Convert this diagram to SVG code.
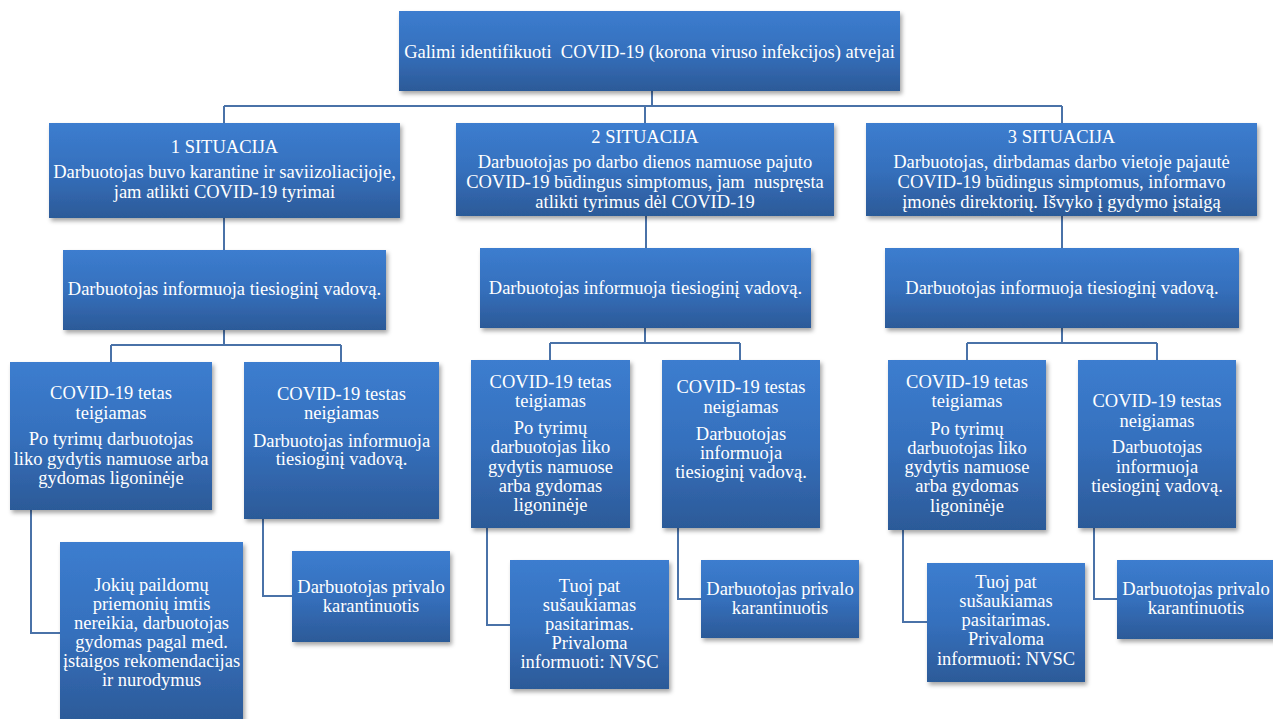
<svg xmlns="http://www.w3.org/2000/svg" width="1273" height="719" viewBox="0 0 1273 719">
<defs>
<linearGradient id="g" x1="0" y1="0" x2="0" y2="1">
<stop offset="0" stop-color="#3c7dcf"/>
<stop offset="0.5" stop-color="#3570bd"/>
<stop offset="1" stop-color="#2c5a98"/>
</linearGradient>
<filter id="sh" x="-10%" y="-10%" width="125%" height="130%">
<feDropShadow dx="2" dy="3" stdDeviation="2" flood-color="#000" flood-opacity="0.35"/>
</filter>
<style>
.box{fill:url(#g);filter:url(#sh);}
.t{font-family:"Liberation Serif","Times New Roman",serif;font-size:18.5px;fill:#fff;text-anchor:middle;white-space:pre;}
.c{fill:none;stroke:#4a72a8;stroke-width:2;}
</style>
</defs>
<rect width="1273" height="719" fill="#fff"/>
<g id="connectors" class="c">
<path d="M652,91 V106 M224,106 H1062 M224,106 V123 M645,106 V123 M1062,106 V123"/>
<path d="M224,218 V250 M646,216 V248 M1062,216 V248"/>
<path d="M224,330 V345 M111,345 H341 M111,345 V362 M341,345 V362"/>
<path d="M645,328 V343 M550,343 H740 M550,343 V360 M740,343 V360"/>
<path d="M1062,328 V343 M967,343 H1157 M967,343 V360 M1157,343 V360"/>
<path d="M31,510 V633 H60 M263,519 V596 H292 M487,528 V625 H510 M678,528 V599 H701 M903,530 V622 H927 M1094,528 V599 H1117"/>
</g>
<g id="top"><rect class="box" x="399" y="11" width="501" height="80"/>
<text class="t" x="649.5" y="58">Galimi identifikuoti  COVID-19 (korona viruso infekcijos) atvejai</text></g>
<g id="sit1"><rect class="box" x="49" y="123" width="351" height="95"/>
<text class="t"><tspan x="224.5" y="153">1 SITUACIJA</tspan><tspan x="224.5" y="178">Darbuotojas buvo karantine ir saviizoliacijoje,</tspan><tspan x="224.5" y="198">jam atlikti COVID-19 tyrimai</tspan></text></g>
<g id="sit2"><rect class="box" x="456" y="123" width="378" height="93"/>
<text class="t"><tspan x="645" y="143">2 SITUACIJA</tspan><tspan x="645" y="168">Darbuotojas po darbo dienos namuose pajuto</tspan><tspan x="645" y="188">COVID-19 būdingus simptomus, jam  nuspręsta</tspan><tspan x="645" y="208">atlikti tyrimus dėl COVID-19</tspan></text></g>
<g id="sit3"><rect class="box" x="866" y="123" width="391" height="93"/>
<text class="t"><tspan x="1061.5" y="143">3 SITUACIJA</tspan><tspan x="1061.5" y="168">Darbuotojas, dirbdamas darbo vietoje pajautė</tspan><tspan x="1061.5" y="188">COVID-19 būdingus simptomus, informavo</tspan><tspan x="1061.5" y="208">įmonės direktorių. Išvyko į gydymo įstaigą</tspan></text></g>
<g id="inf1"><rect class="box" x="63" y="250" width="323" height="80"/>
<text class="t" x="224.5" y="295">Darbuotojas informuoja tiesioginį vadovą.</text></g>
<g id="inf2"><rect class="box" x="480" y="248" width="331" height="80"/>
<text class="t" x="645.5" y="294">Darbuotojas informuoja tiesioginį vadovą.</text></g>
<g id="inf3"><rect class="box" x="885" y="248" width="354" height="80"/>
<text class="t" x="1062" y="294">Darbuotojas informuoja tiesioginį vadovą.</text></g>
<g id="pos1"><rect class="box" x="10" y="362" width="202" height="148"/>
<text class="t"><tspan x="111" y="399">COVID-19 tetas</tspan><tspan x="111" y="419">teigiamas</tspan><tspan x="111" y="445">Po tyrimų darbuotojas</tspan><tspan x="111" y="465">liko gydytis namuose arba</tspan><tspan x="111" y="484">gydomas ligoninėje</tspan></text></g>
<g id="neg1"><rect class="box" x="244" y="362" width="195" height="157"/>
<text class="t"><tspan x="341.5" y="400">COVID-19 testas</tspan><tspan x="341.5" y="419">neigiamas</tspan><tspan x="341.5" y="447">Darbuotojas informuoja</tspan><tspan x="341.5" y="465">tiesioginį vadovą.</tspan></text></g>
<g id="res1a"><rect class="box" x="60" y="542" width="183" height="180"/>
<text class="t"><tspan x="151.5" y="591">Jokių paildomų</tspan><tspan x="151.5" y="610">priemonių imtis</tspan><tspan x="151.5" y="629">nereikia, darbuotojas</tspan><tspan x="151.5" y="648">gydomas pagal med.</tspan><tspan x="151.5" y="667">įstaigos rekomendacijas</tspan><tspan x="151.5" y="686">ir nurodymus</tspan></text></g>
<g id="res1b"><rect class="box" x="292" y="551" width="158" height="91"/>
<text class="t"><tspan x="371" y="593">Darbuotojas privalo</tspan><tspan x="371" y="612">karantinuotis</tspan></text></g>
<g id="pos2"><rect class="box" x="471" y="360" width="159" height="168"/>
<text class="t"><tspan x="550.5" y="388">COVID-19 tetas</tspan><tspan x="550.5" y="407">teigiamas</tspan><tspan x="550.5" y="434">Po tyrimų</tspan><tspan x="550.5" y="453">darbuotojas liko</tspan><tspan x="550.5" y="473">gydytis namuose</tspan><tspan x="550.5" y="492">arba gydomas</tspan><tspan x="550.5" y="511">ligoninėje</tspan></text></g>
<g id="neg2"><rect class="box" x="662" y="360" width="158" height="168"/>
<text class="t"><tspan x="741" y="393">COVID-19 testas</tspan><tspan x="741" y="413">neigiamas</tspan><tspan x="741" y="440">Darbuotojas</tspan><tspan x="741" y="459">informuoja</tspan><tspan x="741" y="478">tiesioginį vadovą.</tspan></text></g>
<g id="res2a"><rect class="box" x="510" y="560" width="159" height="129"/>
<text class="t"><tspan x="589.5" y="592">Tuoj pat</tspan><tspan x="589.5" y="611">sušaukiamas</tspan><tspan x="589.5" y="630">pasitarimas.</tspan><tspan x="589.5" y="649">Privaloma</tspan><tspan x="589.5" y="668">informuoti: NVSC</tspan></text></g>
<g id="res2b"><rect class="box" x="701" y="560" width="158" height="78"/>
<text class="t"><tspan x="780" y="595">Darbuotojas privalo</tspan><tspan x="780" y="614">karantinuotis</tspan></text></g>
<g id="pos3"><rect class="box" x="888" y="360" width="158" height="170"/>
<text class="t"><tspan x="967" y="388">COVID-19 tetas</tspan><tspan x="967" y="407">teigiamas</tspan><tspan x="967" y="435">Po tyrimų</tspan><tspan x="967" y="454">darbuotojas liko</tspan><tspan x="967" y="473">gydytis namuose</tspan><tspan x="967" y="492">arba gydomas</tspan><tspan x="967" y="512">ligoninėje</tspan></text></g>
<g id="neg3"><rect class="box" x="1078" y="360" width="158" height="168"/>
<text class="t"><tspan x="1157" y="407">COVID-19 testas</tspan><tspan x="1157" y="427">neigiamas</tspan><tspan x="1157" y="453">Darbuotojas</tspan><tspan x="1157" y="473">informuoja</tspan><tspan x="1157" y="492">tiesioginį vadovą.</tspan></text></g>
<g id="res3a"><rect class="box" x="927" y="563" width="158" height="119"/>
<text class="t"><tspan x="1006" y="588">Tuoj pat</tspan><tspan x="1006" y="607">sušaukiamas</tspan><tspan x="1006" y="626">pasitarimas.</tspan><tspan x="1006" y="645">Privaloma</tspan><tspan x="1006" y="665">informuoti: NVSC</tspan></text></g>
<g id="res3b"><rect class="box" x="1117" y="560" width="160" height="79"/>
<text class="t"><tspan x="1196" y="595">Darbuotojas privalo</tspan><tspan x="1196" y="614">karantinuotis</tspan></text></g>
</svg>
